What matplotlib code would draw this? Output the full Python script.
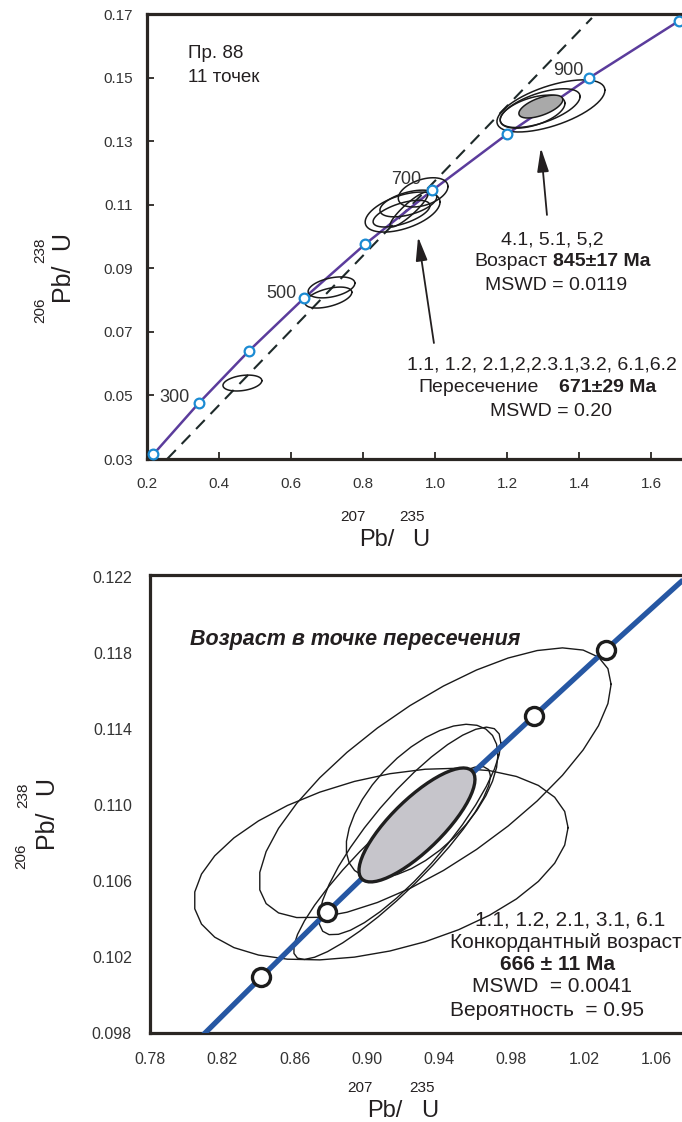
import numpy as np
import matplotlib
matplotlib.use("Agg")
import matplotlib.pyplot as plt

plt.rcParams['font.family'] = ['Liberation Sans', 'DejaVu Sans']
INK = '#231f20'

# ---------------- data: upper panel (sample 88, 11 analyses) ----------------
# concordia reference points (age, Ma) and their ratios
conc_age_top = [200, 300, 400, 500, 600, 700, 800, 900, 1000]
conc_x_top = [0.218, 0.344, 0.483, 0.636, 0.806, 0.993, 1.200, 1.428, 1.677]
conc_y_top = [0.0315, 0.0476, 0.0640, 0.0806, 0.0976, 0.1146, 0.1322, 0.1499, 0.1678]
age_labels_top = ['300', '500', '700', '900']

# discordia end points
disc_x = [0.256, 1.436]
disc_y = [0.0300, 0.1688]

# analyses: 207Pb/235U, 206Pb/238U, half-widths and error correlation
pb207_u235 = [0.465, 0.7125, 0.704, 0.910, 0.967, 0.926, 0.928, 0.907, 1.322, 1.292, 1.271]
err_207 = [0.054, 0.065, 0.065, 0.104, 0.069, 0.079, 0.053, 0.079, 0.150, 0.111, 0.090]
pb206_u238 = [0.0539, 0.0840, 0.0808, 0.1077, 0.1139, 0.1104, 0.1085, 0.1072, 0.1411, 0.1404, 0.1393]
err_206 = [0.0025, 0.0033, 0.0033, 0.0063, 0.0046, 0.0042, 0.0055, 0.0042, 0.0082, 0.0061, 0.0052]
rho_top = [0.3, 0.4, 0.5, 0.5, 0.4, 0.5, 0.9, 0.6, 0.6, 0.6, 0.5]

# weighted mean of 4.1, 5.1, 5.2
mean_top = (1.294, 0.061, 0.1409, 0.0036, 0.6)

xticks_top = [0.2, 0.4, 0.6, 0.8, 1.0, 1.2, 1.4, 1.6]
yticks_top = [0.03, 0.05, 0.07, 0.09, 0.11, 0.13, 0.15, 0.17]

# ---------------- data: lower panel (concordia age) ----------------
conc_age_bot = [600, 620, 640, 660, 680, 700, 720, 740, 760]
conc_x_bot = [0.8056, 0.8416, 0.8782, 0.9155, 0.9535, 0.9926, 1.0322, 1.0725, 1.1138]
conc_y_bot = [0.09754, 0.10094, 0.10438, 0.10781, 0.11125, 0.11470, 0.11817, 0.12164, 0.12513]
marked_ages_bot = [620, 640, 660, 680, 700, 720]

pb207_u235_b = [0.9377, 0.9078, 0.9238, 0.9139, 0.9305]
err_207_b = [0.0974, 0.1035, 0.0503, 0.0545, 0.0420]
pb206_u238_b = [0.11116, 0.10689, 0.10863, 0.10695, 0.11020]
err_206_b = [0.00711, 0.00505, 0.00547, 0.00508, 0.00405]
rho_b = [0.73, 0.38, 0.85, 0.90, 0.60]

conc_mean = (0.9277, 0.0321, 0.10895, 0.0030, 0.8)

xticks_bot = [0.78, 0.82, 0.86, 0.90, 0.94, 0.98, 1.02, 1.06]
yticks_bot = [0.098, 0.102, 0.106, 0.110, 0.114, 0.118, 0.122]


def ellipse(cx, sx, cy, sy, rho, n=40):
    t = np.linspace(0, 2 * np.pi, n)
    x = cx + sx * np.cos(t)
    y = cy + sy * (rho * np.cos(t) + np.sqrt(1 - rho ** 2) * np.sin(t))
    return x, y


W, H = 682, 1122
fig = plt.figure(figsize=(W / 100, H / 100), dpi=100)


def fx(px):
    return px / W


def fy(py):
    return 1 - py / H


def style_axes(ax):
    for s in ('left', 'bottom', 'top'):
        ax.spines[s].set_linewidth(2.3)
        ax.spines[s].set_color('#2a2623')
    ax.spines['right'].set_visible(False)


ARROW = dict(arrowstyle='-|>,head_length=0.9,head_width=0.22', color=INK, lw=1.3,
             mutation_scale=16, shrinkA=0, shrinkB=0)

# ================= upper panel =================
ax1 = fig.add_axes([fx(147), fy(459), fx(682) - fx(147), fy(14) - fy(459)])
ax1.set_xlim(0.2, 0.2 + 535 / 360)
ax1.set_ylim(0.03, 0.03 + 445 / 3178)
style_axes(ax1)
ax1.set_xticks(xticks_top)
ax1.set_xticklabels([f'{v:.1f}' for v in xticks_top])
ax1.set_yticks(yticks_top)
ax1.set_yticklabels([f'{v:.2f}' for v in yticks_top])
ax1.tick_params(direction='in', length=5, width=1.3, colors='#2a2623',
                labelsize=11, labelcolor='#333333')
ax1.tick_params(axis='x', pad=13)
ax1.tick_params(axis='y', pad=10)

ax1.plot(disc_x, disc_y, color='#1e2a2a', lw=1.5, dashes=(6, 4), zorder=2)
ax1.plot(conc_x_top, conc_y_top, color='#5b3c9c', lw=1.8, zorder=3)

for cx, sx, cy, sy, r in zip(pb207_u235, err_207, pb206_u238, err_206, rho_top):
    ex, ey = ellipse(cx, sx, cy, sy, r, n=60)
    ax1.plot(ex, ey, color='#1a1a1a', lw=1.1, zorder=4)
ex, ey = ellipse(*mean_top, n=60)
ax1.fill(ex, ey, facecolor='#a9a9a9', edgecolor='#1a1a1a', lw=1.1, zorder=5)

ax1.plot(conc_x_top, conc_y_top, 'o', ms=7, mfc='white', mec='#1b8bd3', mew=1.6,
         zorder=6, clip_on=False)

label_offsets = {'300': (-9, 6), '500': (-7, 5), '700': (-11, 11), '900': (-6, 7)}
for lab in age_labels_top:
    i = conc_age_top.index(int(lab))
    dx, dy = label_offsets[lab]
    ax1.annotate(lab, (conc_x_top[i], conc_y_top[i]), xytext=(dx, dy),
                 textcoords='offset pixels', ha='right', va='center',
                 fontsize=13, color='#333333', zorder=7)

fig.text(fx(188), fy(53), 'Пр. 88', fontsize=13.5, color=INK, va='center')
fig.text(fx(188), fy(77), '11 точек', fontsize=13.5, color=INK, va='center')

ax1.annotate('', xy=(1.294, 0.1279), xytext=(1.311, 0.1068), arrowprops=ARROW)
ax1.annotate('', xy=(0.953, 0.0999), xytext=(0.997, 0.0665), arrowprops=ARROW)

fig.text(fx(552), fy(240), '4.1, 5.1, 5,2', fontsize=14, color=INK, ha='center', va='center')
fig.text(fx(548), fy(262), 'Возраст', fontsize=14, color=INK, ha='right', va='center')
fig.text(fx(553), fy(262), '845±17 Ma', fontsize=14, color=INK, ha='left', va='center',
         fontweight='bold')
fig.text(fx(556), fy(285), 'MSWD = 0.0119', fontsize=14, color=INK, ha='center', va='center')

fig.text(fx(542), fy(365), '1.1, 1.2, 2.1,2,2.3.1,3.2, 6.1,6.2', fontsize=14, color=INK,
         ha='center', va='center')
fig.text(fx(539), fy(387), 'Пересечение', fontsize=14, color=INK, ha='right', va='center')
fig.text(fx(559), fy(387), '671±29 Ma', fontsize=14, color=INK, ha='left', va='center',
         fontweight='bold')
fig.text(fx(551), fy(412), 'MSWD = 0.20', fontsize=14, color=INK, ha='center', va='center')

# axis titles with mass numbers set above the symbols
fig.text(fx(353), fy(517), '207', fontsize=11, color=INK, ha='center', va='center')
fig.text(fx(412), fy(517), '235', fontsize=11, color=INK, ha='center', va='center')
fig.text(fx(377), fy(540), 'Pb/', fontsize=17, color=INK, ha='center', va='center')
fig.text(fx(421), fy(540), 'U', fontsize=17, color=INK, ha='center', va='center')

fig.text(fx(40), fy(310), '206', fontsize=11, color=INK, ha='center', va='center', rotation=90)
fig.text(fx(62), fy(282), 'Pb/', fontsize=18, color=INK, ha='center', va='center', rotation=90)
fig.text(fx(40), fy(250), '238', fontsize=11, color=INK, ha='center', va='center', rotation=90)
fig.text(fx(62), fy(241), 'U', fontsize=18, color=INK, ha='center', va='center', rotation=90)

# ================= lower panel =================
ax2 = fig.add_axes([fx(150), fy(1033), fx(682) - fx(150), fy(575) - fy(1033)])
ax2.set_xlim(0.78, 0.78 + 532 / 1807.5)
ax2.set_ylim(0.098, 0.098 + 458 / 19000)
style_axes(ax2)
ax2.set_xticks(xticks_bot)
ax2.set_xticklabels([f'{v:.2f}' for v in xticks_bot])
ax2.set_yticks(yticks_bot)
ax2.set_yticklabels([f'{v:.3f}' for v in yticks_bot])
ax2.tick_params(length=0, labelsize=11.5, labelcolor='#333333')
ax2.tick_params(axis='x', pad=14)
ax2.tick_params(axis='y', pad=13)

for cx, sx, cy, sy, r in zip(pb207_u235_b, err_207_b, pb206_u238_b, err_206_b, rho_b):
    ex, ey = ellipse(cx, sx, cy, sy, r, n=34)
    ax2.plot(ex, ey, color='#1a1a1a', lw=1.0, zorder=2)

ax2.plot(conc_x_bot, conc_y_bot, color='#2657a3', lw=3.8, zorder=3, solid_capstyle='butt')
mk = [conc_age_bot.index(a) for a in marked_ages_bot]
ax2.plot([conc_x_bot[i] for i in mk], [conc_y_bot[i] for i in mk], 'o', ms=13,
         mfc='white', mec='#1c1c1c', mew=2.4, zorder=4, linestyle='none')

ex, ey = ellipse(*conc_mean, n=60)
ax2.fill(ex, ey, facecolor='#c6c5cb', edgecolor='#1f1f1f', lw=2.4, zorder=5)

fig.text(fx(190), fy(639), 'Возраст в точке пересечения', fontsize=15.5, color=INK,
         fontweight='bold', fontstyle='italic', ha='left', va='center')

fig.text(fx(570), fy(920), '1.1, 1.2, 2.1, 3.1, 6.1', fontsize=15, color=INK, ha='center', va='center')
fig.text(fx(450), fy(942), 'Конкордантный возраст', fontsize=15, color=INK, ha='left', va='center')
fig.text(fx(557), fy(964), '666 ± 11 Ma', fontsize=15, color=INK, ha='center', va='center',
         fontweight='bold')
fig.text(fx(552), fy(987), 'MSWD  = 0.0041', fontsize=15, color=INK, ha='center', va='center')
fig.text(fx(547), fy(1011), 'Вероятность  = 0.95', fontsize=15, color=INK, ha='center', va='center')

fig.text(fx(360), fy(1088), '207', fontsize=11, color=INK, ha='center', va='center')
fig.text(fx(422), fy(1088), '235', fontsize=11, color=INK, ha='center', va='center')
fig.text(fx(385), fy(1111), 'Pb/', fontsize=17, color=INK, ha='center', va='center')
fig.text(fx(430), fy(1111), 'U', fontsize=17, color=INK, ha='center', va='center')

fig.text(fx(21), fy(856), '206', fontsize=11, color=INK, ha='center', va='center', rotation=90)
fig.text(fx(46), fy(829), 'Pb/', fontsize=18, color=INK, ha='center', va='center', rotation=90)
fig.text(fx(23), fy(795), '238', fontsize=11, color=INK, ha='center', va='center', rotation=90)
fig.text(fx(46), fy(786), 'U', fontsize=18, color=INK, ha='center', va='center', rotation=90)

fig.savefig('out.png', dpi=100)
